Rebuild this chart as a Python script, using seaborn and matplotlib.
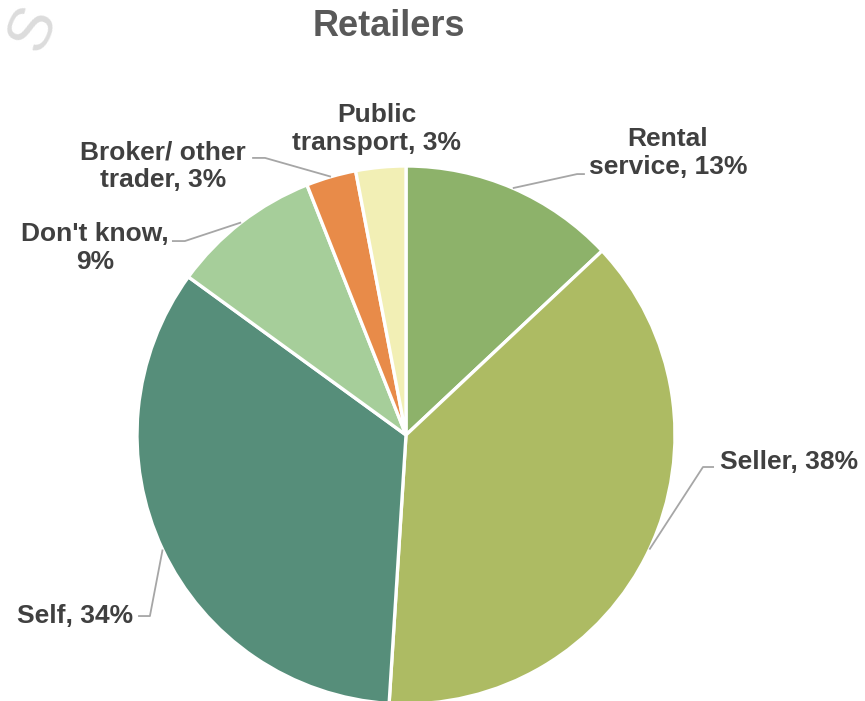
import matplotlib
matplotlib.use("Agg")
import matplotlib.pyplot as plt
import numpy as np
import seaborn as sns

# Who arranged transport for retailers (share of respondents, %)
categories = ["Rental\nservice", "Seller", "Self", "Don't know", "Broker/ other\ntrader", "Public\ntransport"]
shares = [13, 38, 34, 9, 3, 3]
label_texts = ["Rental\nservice, 13%", "Seller, 38%", "Self, 34%",
               "Don't know,\n9%", "Broker/ other\ntrader, 3%", "Public\ntransport, 3%"]
palette = ["#8DB26A", "#ADBB63", "#568E7A", "#A6CE9A", "#E88B49", "#F2EFB5"]

sns.set_theme(style="white")
plt.rcParams["font.family"] = ["Liberation Sans", "DejaVu Sans"]

W, H = 865, 701
fig = plt.figure(figsize=(W / 100, H / 100), dpi=100)
ax = fig.add_axes([0, 0, 1, 1])

wedges, _ = ax.pie(shares, colors=sns.color_palette(palette), startangle=90,
                   counterclock=False, radius=1.0,
                   wedgeprops=dict(edgecolor="white", linewidth=2.4))

# pie of radius 1 centred at (406, 435) px with a 269 px radius
R, CX, CY = 269.0, 406.0, 435.0
ax.set_xlim(-CX / R, (W - CX) / R)
ax.set_ylim(-(H - CY) / R, CY / R)
ax.set_aspect("auto")
ax.axis("off")

# label placement: (text x, text y, ha, elbow point, line end point) in axis units
layout = [
    (0.974, 1.048, "center", (0.636, 0.970), (0.665, 0.970)),
    (1.167, -0.100, "left", (1.104, -0.119), (1.145, -0.119)),
    (-1.015, -0.673, "right", (-0.952, -0.673), (-0.996, -0.673)),
    (-1.156, 0.695, "center", (-0.822, 0.721), (-0.870, 0.721)),
    (-0.903, 1.000, "center", (-0.524, 1.030), (-0.572, 1.030)),
    (-0.108, 1.138, "center", None, None),
]

line_color = "#A6A6A6"
for w, txt, (tx, ty, ha, elbow, end) in zip(wedges, label_texts, layout):
    mid = np.deg2rad((w.theta1 + w.theta2) / 2)
    sx, sy = np.cos(mid), np.sin(mid)
    if elbow is not None:
        ax.plot([sx, elbow[0], end[0]], [sy, elbow[1], end[1]],
                color=line_color, lw=1.3, solid_capstyle="butt", zorder=1)
    ax.text(tx, ty, txt, ha=ha, va="center", fontsize=19, fontweight="bold",
            color="#404040", linespacing=1.2)

fig.text(389 / W, 1 - 26 / H, "Retailers", ha="center", va="center",
         fontsize=26, fontweight="bold", color="#595959")

# faint watermark in the corner
fig.text(34 / W, 1 - 29 / H, "S", ha="center", va="center", fontsize=45,
         color="#DCDCDC", rotation=65, zorder=0)

fig.savefig("out.png", dpi=100)
